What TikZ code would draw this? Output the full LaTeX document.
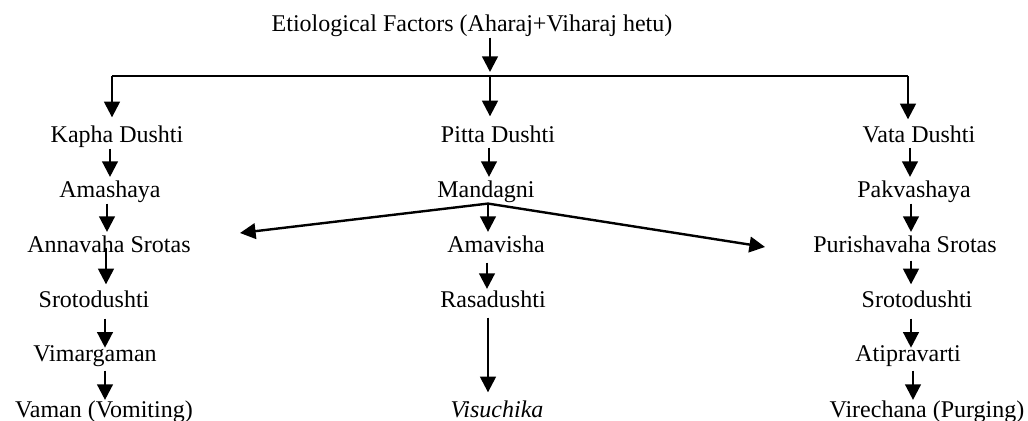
\documentclass[tikz,border=0pt]{standalone}
\usepackage{fontspec}
\setmainfont{Liberation Serif}
\usetikzlibrary{arrows.meta}
\begin{document}
\begin{tikzpicture}[x=0.5pt,y=-0.5pt,
  lbl/.style={anchor=base,inner sep=0pt,font=\fontsize{12pt}{14pt}\selectfont},
  arr/.style={line width=1.2pt,-{Triangle[length=7.8pt,width=7.8pt]}},
  ln/.style={line width=1.2pt}]
\useasboundingbox (0,0) rectangle (1028,421);
% title
\node[lbl] (title) at (472,32) {Etiological Factors (Aharaj+Viharaj hetu)};
% left column
\node[lbl] (kapha)    at (117,143) {Kapha Dushti};
\node[lbl] (amashaya) at (110,198) {Amashaya};
\node[lbl] (annavaha) at (109,253) {Annavaha Srotas};
\node[lbl] (srotoL)   at (94,308)  {Srotodushti};
\node[lbl] (vimarg)   at (95,362)  {Vimargaman};
\node[lbl] (vaman)    at (104,418) {Vaman (Vomiting)};
% middle column
\node[lbl] (pitta)    at (498,143) {Pitta Dushti};
\node[lbl] (mandagni) at (486,198) {Mandagni};
\node[lbl] (amavisha) at (496,253) {Amavisha};
\node[lbl] (rasa)     at (493,308) {Rasadushti};
\node[lbl] (visu)     at (497,418) {\textit{Visuchika}};
% right column
\node[lbl] (vata)     at (919,143) {Vata Dushti};
\node[lbl] (pakva)    at (914,198) {Pakvashaya};
\node[lbl] (puri)     at (905,253) {Purishavaha Srotas};
\node[lbl] (srotoR)   at (917,308) {Srotodushti};
\node[lbl] (atip)     at (908,362) {Atipravarti};
\node[lbl] (vire)     at (927,418) {Virechana (Purging)};
% junction coordinates
\coordinate (hl) at (112,76);
\coordinate (hm) at (490,76);
\coordinate (hr) at (908,76);
\coordinate (apex) at (mandagni.south -| 488,0);
\coordinate (fl) at (240,233);
\coordinate (fr) at (765,247);
% top distribution
\draw[arr,shorten >=2pt] (title.south -| hm) -- (hm);
\draw[ln] (hl) -- (hr);
\draw[arr,shorten >=4.3pt] (hl) -- (kapha.north -| hl);
\draw[arr,shorten >=4.8pt] (hm) -- (pitta.north -| hm);
\draw[arr,shorten >=3.3pt] (hr) -- (vata.north -| hr);
% left chain
\draw[arr,shorten >=2pt] (kapha.south -| 110,0) -- (amashaya.north -| 110,0);
\draw[arr,shorten >=2pt] (amashaya.south -| 107,0) -- (annavaha.north -| 107,0);
\draw[arr,shorten <=-3pt,shorten >=3.3pt] (annavaha.south -| 106,0) -- (srotoL.north -| 106,0);
\draw[arr,shorten <=5pt,shorten >=-1pt] (srotoL.south -| 105,0) -- (vimarg.north -| 105,0);
\draw[arr,shorten <=1.5pt,shorten >=0.5pt] (vimarg.south -| 105,0) -- (vaman.north -| 105,0);
% middle chain
\draw[arr,shorten <=2pt,shorten >=2pt] (pitta.south -| 489,0) -- (mandagni.north -| 489,0);
\draw[arr] (apex) -- (fl);
\draw[arr] (apex) -- (fr);
\draw[arr,shorten >=2pt] (apex) -- (amavisha.north -| apex);
\draw[arr,shorten <=4.5pt,shorten >=1pt] (amavisha.south -| 487,0) -- (rasa.north -| 487,0);
\draw[arr,shorten <=4.5pt,shorten >=4.3pt] (rasa.south -| 488,0) -- (visu.north -| 488,0);
% right chain
\draw[arr,shorten <=2pt,shorten >=2pt] (vata.south -| 910,0) -- (pakva.north -| 910,0);
\draw[arr,shorten >=2pt] (pakva.south -| 911,0) -- (puri.north -| 911,0);
\draw[arr,shorten <=3.5pt,shorten >=3.3pt] (puri.south -| 911,0) -- (srotoR.north -| 911,0);
\draw[arr,shorten <=5pt,shorten >=-1pt] (srotoR.south -| 911,0) -- (atip.north -| 911,0);
\draw[arr,shorten <=1.5pt,shorten >=0.5pt] (atip.south -| 913,0) -- (vire.north -| 913,0);
\end{tikzpicture}
\end{document}
